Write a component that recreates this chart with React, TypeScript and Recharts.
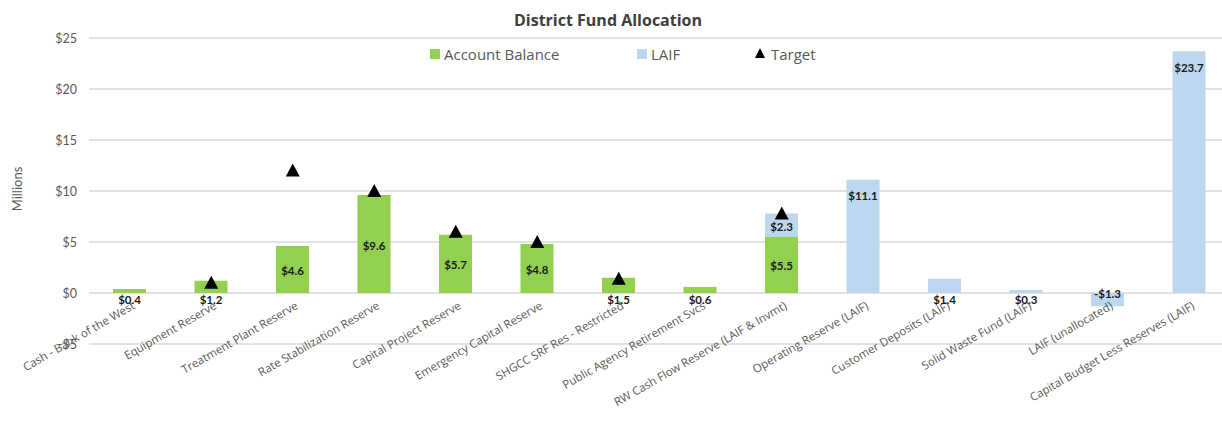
import React from 'react';
import { ComposedChart, Bar, Line, XAxis, YAxis, CartesianGrid, LabelList } from 'recharts';

const categories = [
  'Cash - Bank of the West',
  'Equipment Reserve',
  'Treatment Plant Reserve',
  'Rate Stabilization Reserve',
  'Capital Project Reserve',
  'Emergency Capital Reserve',
  'SHGCC SRF Res - Restricted',
  'Public Agency Retirement Svcs',
  'RW Cash Flow Reserve (LAIF & Invmt)',
  'Operating Reserve (LAIF)',
  'Customer Deposits (LAIF)',
  'Solid Waste Fund (LAIF)',
  'LAIF (unallocated)',
  'Capital Budget Less Reserves (LAIF)',
];

const accountBalance: (number | null)[] = [0.4, 1.2, 4.6, 9.6, 5.7, 4.8, 1.5, 0.6, 5.5, null, null, null, null, null];
const laifValues: (number | null)[] = [null, null, null, null, null, null, null, null, 2.3, 11.1, 1.4, 0.3, -1.3, 23.7];
const targetValues: (number | null)[] = [null, 1.0, 12, 10, 6, 5, 1.4, null, 7.8, null, null, null, null, null];
const yTicks = [-5, 0, 5, 10, 15, 20, 25];

const GREEN = '#92d050';
const BLUE = '#bdd7ee';
const GRAY = '#595959';
const FONT = '"Open Sans", Lato, sans-serif';
const FONT2 = 'Lato, "Open Sans", sans-serif';

const data = categories.map((name, i) => ({
  name,
  balance: accountBalance[i],
  laif: laifValues[i],
  target: targetValues[i],
}));

const fmt = (v: number) => (v < 0 ? `-$${Math.abs(v).toFixed(1)}` : `$${v.toFixed(1)}`);

const BarLabel = (props: any) => {
  const { x, y, width, height, value } = props;
  if (value == null || x == null) return null;
  const v = Number(value);
  const top = Math.min(y, y + height);
  const bottom = Math.max(y, y + height);
  let ty: number;
  if (v >= 10) ty = top + 16;
  else if (v >= 2) ty = (top + bottom) / 2 + 1;
  else if (v > 0) ty = bottom + 6;
  else ty = top;
  return (
    <text
      x={x + width / 2}
      y={ty}
      textAnchor="middle"
      dominantBaseline="central"
      fontSize={11.5}
      fontWeight={700}
      fontFamily={FONT2}
      fill="#1a1a1a"
    >
      {fmt(v)}
    </text>
  );
};

const Triangle = (props: any) => {
  const { cx, cy, value, index } = props;
  if (value == null || cx == null || cy == null) return <g key={`t-${index}`} />;
  return <path key={`t-${index}`} d={`M${cx},${cy - 7}L${cx + 7},${cy + 6}L${cx - 7},${cy + 6}Z`} fill="#000" />;
};

const XTick = (props: any) => {
  const { x, y, payload } = props;
  const ax = x + 6;
  const ay = y - 44;
  return (
    <text
      x={ax}
      y={ay}
      textAnchor="end"
      transform={`rotate(-30 ${ax} ${ay})`}
      fontSize={11.5}
      fontFamily={FONT}
      fill={GRAY}
    >
      {payload.value}
    </text>
  );
};

const YTick = (props: any) => {
  const { x, y, payload } = props;
  const v = payload.value as number;
  const label = v < 0 ? `-$${Math.abs(v)}` : `$${v}`;
  return (
    <text x={x} y={y} textAnchor="end" dominantBaseline="central" fontSize={12.5} fontFamily={FONT2} fill={GRAY}>
      {label}
    </text>
  );
};

export default function App() {
  return (
    <div
      style={{
        position: 'absolute',
        left: 0,
        top: 0,
        width: 1222,
        height: 426,
        overflow: 'hidden',
        background: '#fff',
        fontFamily: FONT,
      }}
    >
      <div
        style={{
          position: 'absolute',
          left: 0,
          top: 10,
          width: 1216,
          textAlign: 'center',
          fontSize: 16,
          lineHeight: '20px',
          fontWeight: 700,
          color: '#404040',
        }}
      >
        District Fund Allocation
      </div>
      <div
        style={{
          position: 'absolute',
          left: 10,
          top: 189,
          transform: 'translate(-50%, -50%) rotate(-90deg)',
          fontSize: 13,
          color: GRAY,
          whiteSpace: 'nowrap',
          lineHeight: '16px',
          marginLeft: 7,
          fontFamily: FONT2,
        }}
      >
        Millions
      </div>
      <div style={{ position: 'absolute', left: 430, top: 49, width: 10, height: 10, background: GREEN }} />
      <div style={{ position: 'absolute', left: 444, top: 44, fontSize: 15, lineHeight: '20px', color: GRAY }}>
        Account Balance
      </div>
      <div style={{ position: 'absolute', left: 637, top: 49, width: 10, height: 10, background: BLUE }} />
      <div style={{ position: 'absolute', left: 651, top: 44, fontSize: 15, lineHeight: '20px', color: GRAY }}>LAIF</div>
      <svg style={{ position: 'absolute', left: 755, top: 48 }} width={10} height={10}>
        <path d="M5,0L10,10L0,10Z" fill="#000" />
      </svg>
      <div style={{ position: 'absolute', left: 771, top: 44, fontSize: 15, lineHeight: '20px', color: GRAY }}>
        Target
      </div>
      <div style={{ position: 'absolute', left: 0, top: 0 }}>
        <ComposedChart
          width={1230}
          height={426}
          data={data}
          margin={{ top: 38, right: 0, bottom: 0, left: 0 }}
          barSize={33}
        >
          <CartesianGrid vertical={false} stroke="#d9d9d9" strokeWidth={1.5} />
          <XAxis
            dataKey="name"
            interval={0}
            height={82}
            axisLine={false}
            tickLine={false}
            tick={<XTick />}
          />
          <YAxis
            width={89}
            domain={[-5, 25]}
            ticks={yTicks}
            axisLine={false}
            tickLine={false}
            tickMargin={6}
            tick={<YTick />}
            allowDataOverflow
          />
          <Bar dataKey="balance" stackId="a" fill={GREEN} isAnimationActive={false}>
            <LabelList dataKey="balance" content={<BarLabel />} />
          </Bar>
          <Bar dataKey="laif" stackId="a" fill={BLUE} isAnimationActive={false}>
            <LabelList dataKey="laif" content={<BarLabel />} />
          </Bar>
          <Line
            dataKey="target"
            stroke="none"
            dot={Triangle}
            activeDot={false}
            isAnimationActive={false}
            connectNulls={false}
          />
        </ComposedChart>
      </div>
    </div>
  );
}
